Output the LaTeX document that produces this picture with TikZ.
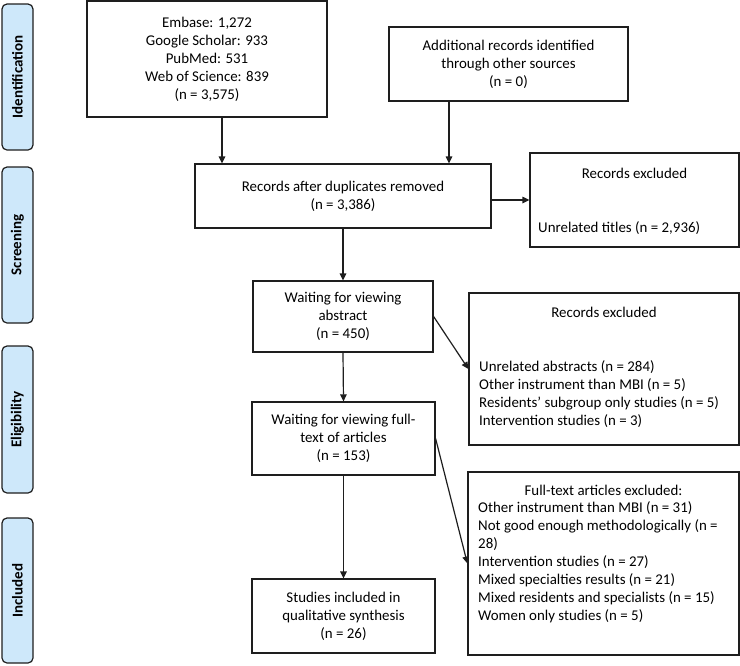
\documentclass[tikz,border=0pt]{standalone}
\usepackage{fontspec}
\setmainfont{Carlito}
\usepackage{graphicx}
\usetikzlibrary{arrows.meta,calc}
\definecolor{linec}{RGB}{30,30,30}
\definecolor{phasefill}{RGB}{206,232,250}
\newcommand{\mainsize}{\fontsize{14.9pt}{18pt}\selectfont}
\newcommand{\phasesize}{\fontsize{15pt}{16pt}\selectfont\bfseries}
\begin{document}
\begin{tikzpicture}[x=1pt,y=-1pt,
  box/.style={draw=linec, line width=1.2pt, inner sep=0pt, align=center, font=\mainsize},
  txt/.style={inner sep=0pt, font=\mainsize},
  phase/.style={draw=linec, fill=phasefill, line width=1.2pt, rounded corners=5pt, minimum width=31pt, inner sep=0pt, font=\phasesize},
  arr/.style={draw=linec, line width=1.2pt, -{Triangle[length=7pt,width=6.5pt]}}]
\useasboundingbox (0,0) rectangle (740,665);

% phase labels
\node[phase, minimum height=146pt] (pid) at (17.5,77) {\rotatebox{90}{Identification}};
\node[phase, minimum height=156pt] (pscr) at (17.5,245) {\rotatebox{90}{Screening}};
\node[phase, minimum height=147pt] (pel) at (17.5,419.5) {\rotatebox{90}{Eligibility}};
\node[phase, minimum height=145pt] (pinc) at (17.5,590.5) {\rotatebox{90}{Included}};

% boxes
\node[box, minimum width=240pt, minimum height=116pt] (b1) at (207,59)
  {Embase: 1,272\\Google Scholar: 933\\PubMed: 531\\Web of Science: 839\\(n = 3,575)};
\node[box, minimum width=239pt, minimum height=74pt] (b2) at (508.5,64)
  {Additional records identified\\through other sources\\(n = 0)};
\node[box, minimum width=296pt, minimum height=64pt] (b3) at (343,196)
  {Records after duplicates removed\\(n = 3,386)};
\node[box, minimum width=209pt, minimum height=94pt] (b4) at (634.5,200) {};
\node[txt] (b4h) at (634.5,173) {Records excluded};
\node[txt, anchor=west] (b4l) at (538,228) {Unrelated titles (n = 2,936)};

\node[box, minimum width=180pt, minimum height=71pt] (b5) at (343,316.5)
  {Waiting for viewing\\abstract\\(n = 450)};
\node[box, minimum width=270pt, minimum height=152pt] (b6) at (604,369) {};
\node[txt] (b6h) at (604,312) {Records excluded};
\node[txt, anchor=west, align=left] (b6l) at (479,394)
  {Unrelated abstracts (n = 284)\\Other instrument than MBI (n = 5)\\Residents’ subgroup only studies (n = 5)\\Intervention studies (n = 3)};

\node[box, minimum width=183pt, minimum height=73pt] (b7) at (343.5,438.5)
  {Waiting for viewing full-\\text of articles\\(n = 153)};
\node[box, minimum width=271pt, minimum height=183pt] (b8) at (603.5,563.5) {};
\node[txt] (b8h) at (603.5,490) {Full-text articles excluded:};
\node[txt, anchor=west, align=left] (b8l) at (478,562)
  {Other instrument than MBI (n = 31)\\Not good enough methodologically (n =\\28)\\Intervention studies (n = 27)\\Mixed specialties results (n = 21)\\Mixed residents and specialists (n = 15)\\Women only studies (n = 5)};

\node[box, minimum width=183pt, minimum height=74pt] (b9) at (343.5,616)
  {Studies included in\\qualitative synthesis\\(n = 26)};

% connectors
\draw[arr] ([xshift=15pt]b1.south) -- ([xshift=15pt]b1.south |- b3.north);
\draw[arr] ([xshift=-59.5pt]b2.south) -- ([xshift=-59.5pt]b2.south |- b3.north);
\draw[arr] (b3.east |- b4.west) -- (b4.west);
\draw[arr] (b3.south) -- (b5.north);
\draw[arr] (b5.east) -- (b6.west);
\draw[arr] (b5.south) -- (b7.north);
\draw[arr] (b7.east) -- (b8.west);
\draw[arr] (b7.south) -- (b9.north);
\end{tikzpicture}
\end{document}
